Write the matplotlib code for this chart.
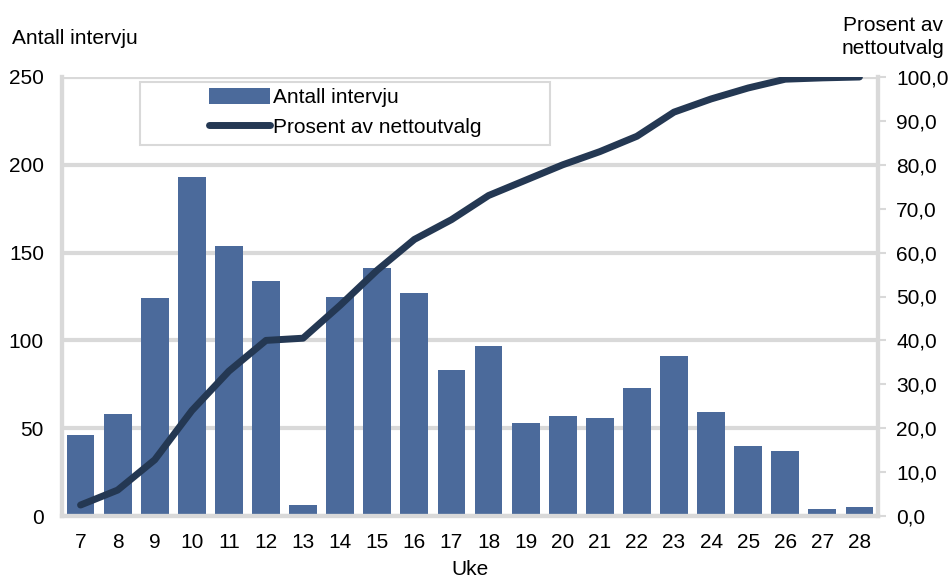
import matplotlib.pyplot as plt
from matplotlib.patches import Rectangle
import numpy as np

weeks = [7, 8, 9, 10, 11, 12, 13, 14, 15, 16, 17, 18, 19, 20, 21, 22, 23, 24, 25, 26, 27, 28]
interviews = [46, 58, 124, 193, 154, 134, 6, 125, 141, 127, 83, 97, 53, 57, 56, 73, 91, 59, 40, 37, 4, 5]
percent = [2.5, 5.9, 12.8, 24.0, 33.0, 40.0, 40.5, 48.0, 56.0, 63.0, 67.5, 73.0, 76.5, 80.0,
           83.0, 86.5, 92.0, 95.0, 97.5, 99.5, 99.8, 100.0]

plt.rcParams['font.family'] = ['Liberation Sans', 'DejaVu Sans']
grey = '#d9d9d9'
fs = 15

fig = plt.figure(figsize=(9.52, 5.79), dpi=100)
ax = fig.add_axes([62 / 952, 1 - 516 / 579, (878 - 62) / 952, (516 - 77) / 579])
ax2 = ax.twinx()

x = np.arange(len(weeks))
bars = ax.bar(x, interviews, width=0.75, color='#4b6a9b', label='Antall intervju', zorder=2)
line, = ax2.plot(x, percent, color='#243853', lw=5, solid_capstyle='round',
                 label='Prosent av nettoutvalg', zorder=3)

ax.set_xlim(-0.5, len(weeks) - 0.5)
ax.set_ylim(0, 250)
ax2.set_ylim(0, 100)
ax.set_yticks(range(0, 251, 50))
ax2.set_yticks(range(0, 101, 10))
ax2.set_yticklabels([f'{v},0' for v in range(0, 101, 10)])
ax.set_xticks(x)
ax.set_xticklabels([str(w) for w in weeks])

ax.yaxis.grid(True, color=grey, lw=3, zorder=0)
ax.set_axisbelow(True)
for a in (ax, ax2):
    for s in a.spines.values():
        s.set_color(grey)
        s.set_linewidth(3)
    a.spines['top'].set_visible(False)
    a.tick_params(labelsize=fs, colors='black')
ax.tick_params(axis='y', length=0, pad=13)
ax.tick_params(axis='x', length=0, pad=12)
ax2.tick_params(axis='y', length=6, width=1.5, color=grey, pad=7)
ax.set_zorder(1)
ax2.set_zorder(2)
ax2.patch.set_visible(False)

fig.text(12 / 952, 1 - 38 / 579, 'Antall intervju', fontsize=fs, va='center', ha='left')
fig.text(893 / 952, 1 - 37 / 579, 'Prosent av\nnettoutvalg', fontsize=fs, va='center',
         ha='center', linespacing=1.25)
ax.set_xlabel('Uke', fontsize=fs, labelpad=6)

# legend frame
ax2.add_patch(Rectangle(((140 - 62) / 816, (516 - 145) / 439), 410 / 816, 63 / 439,
                        transform=ax2.transAxes, facecolor='white', edgecolor=grey,
                        lw=1.5, zorder=4))
leg = ax2.legend([bars, line], ['Antall intervju', 'Prosent av nettoutvalg'],
                 loc='upper left', bbox_to_anchor=((205 - 62) / 816, (516 - 84) / 439),
                 fontsize=fs, frameon=False, handlelength=2.9, handleheight=0.8,
                 handletextpad=0.15, borderpad=0.2, borderaxespad=0, labelspacing=0.48)
leg.set_zorder(5)

fig.savefig('out.png', dpi=100)
